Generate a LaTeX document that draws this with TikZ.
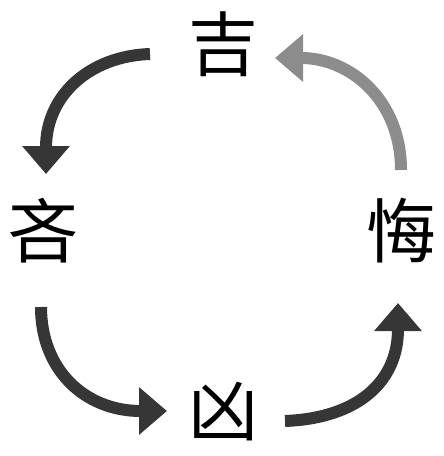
\documentclass[tikz,border=0pt]{standalone}
\usepackage{fontspec}
\newfontfamily\cjk{Noto Sans CJK SC}
\usetikzlibrary{arrows.meta}
\definecolor{darkarrow}{HTML}{363636}
\definecolor{grayarrow}{HTML}{8C8C8C}
\tikzset{
  glyph/.style={inner sep=0pt, font=\cjk\fontsize{70pt}{70pt}\selectfont, text=black},
  bigarrow/.style={line width=12pt, -{Triangle[width=46pt,length=28pt]}},
}
\begin{document}
\begin{tikzpicture}[x=1pt,y=-1pt]
\useasboundingbox (0,0) rectangle (444,456);
\node[glyph] (ji) at (223,44) {吉};
\node[glyph] (lin) at (44,231) {吝};
\node[glyph] (hui) at (401,231) {悔};
\node[glyph] (xiong) at (223,412) {凶};
% arrow endpoints
\coordinate (a1s) at (150,54);
\coordinate (a1e) at (46,174);
\coordinate (a2s) at (41,307);
\coordinate (a2e) at (167,411);
\coordinate (a3s) at (285,421);
\coordinate (a3e) at (398,303);
\coordinate (a4s) at (401,170);
\coordinate (a4e) at (275,58);
\draw[bigarrow, darkarrow] (a1s) .. controls (90,56) and (46,95) .. (a1e);
\draw[bigarrow, darkarrow] (a2s) .. controls (41,370) and (85,411) .. (a2e);
\draw[bigarrow, darkarrow] (a3s) .. controls (360,418) and (398,380) .. (a3e);
\draw[bigarrow, grayarrow] (a4s) .. controls (401,100) and (350,58) .. (a4e);
\end{tikzpicture}
\end{document}
